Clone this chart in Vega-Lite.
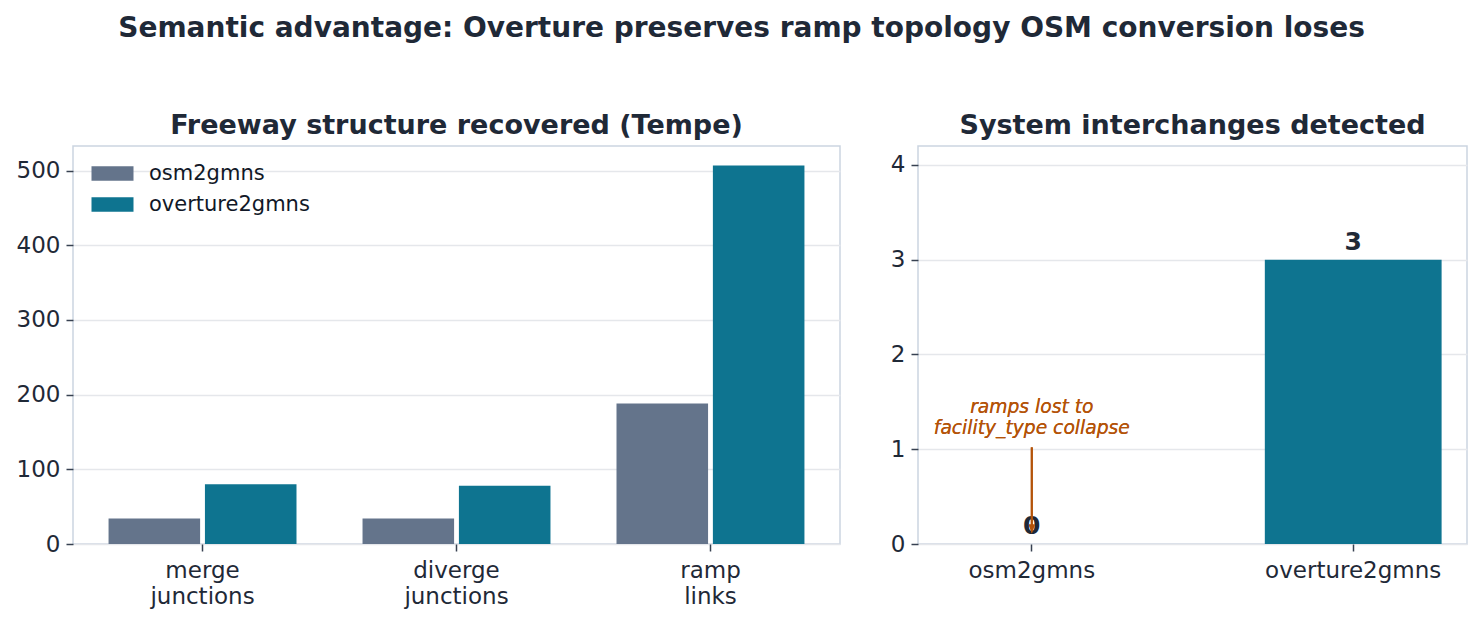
{
  "$schema": "https://vega.github.io/schema/vega-lite/v6.json",
  "padding": {"left": 15, "top": 15, "right": 12, "bottom": 5},
  "background": "white",
  "title": {"text": "Semantic advantage: Overture preserves ramp topology OSM conversion loses", "fontSize": 28, "fontWeight": "bold", "color": "#1f2937", "anchor": "middle", "offset": 68},
  "config": {
    "font": "DejaVu Sans",
    "view": {"stroke": "#cbd5e1", "strokeWidth": 1.5},
    "axis": {"labelFontSize": 23, "labelColor": "#1f2937", "tickColor": "#374151", "tickSize": 7, "tickWidth": 1.5, "labelPadding": 6, "domain": false, "gridColor": "#e5e7eb", "gridWidth": 1.3},
    "axisX": {"labelPadding": 8},
    "title": {"fontSize": 27, "fontWeight": "bold", "color": "#1f2937", "offset": 6}
  },
  "resolve": {"scale": {"color": "independent"}, "legend": {"color": "independent"}},
  "spacing": 48,
  "hconcat": [
    {
      "width": 767,
      "height": 398,
      "title": {"text": "Freeway structure recovered (Tempe)"},
      "data": {"values": [
        {"metric": "merge junctions", "tool": "osm2gmns", "count": 34},
        {"metric": "merge junctions", "tool": "overture2gmns", "count": 80},
        {"metric": "diverge junctions", "tool": "osm2gmns", "count": 34},
        {"metric": "diverge junctions", "tool": "overture2gmns", "count": 78},
        {"metric": "ramp links", "tool": "osm2gmns", "count": 188},
        {"metric": "ramp links", "tool": "overture2gmns", "count": 507}
      ]},
      "mark": {"type": "bar"},
      "encoding": {
        "x": {"field": "metric", "type": "nominal", "sort": ["merge junctions", "diverge junctions", "ramp links"], "scale": {"paddingInner": 0.26, "paddingOuter": 0.14}, "axis": {"title": null, "labelAngle": 0, "labelExpr": "split(datum.label, ' ')", "labelLineHeight": 26, "grid": false}},
        "xOffset": {"field": "tool", "type": "nominal", "sort": ["osm2gmns", "overture2gmns"], "scale": {"paddingInner": 0.05, "paddingOuter": 0}},
        "y": {"field": "count", "type": "quantitative", "scale": {"domain": [0, 533], "nice": false}, "axis": {"title": null, "values": [0, 100, 200, 300, 400, 500], "grid": true}},
        "color": {"field": "tool", "type": "nominal", "scale": {"domain": ["osm2gmns", "overture2gmns"], "range": ["#64748b", "#0e7490"]}, "legend": {"title": null, "orient": "none", "legendX": 29, "legendY": 17, "symbolType": "M-2,-0.7H2V0.7H-2Z", "symbolSize": 441, "labelFontSize": 21, "labelColor": "#111827", "labelOffset": 26, "labelLimit": 400, "rowPadding": 9, "padding": 0, "symbolStrokeWidth": 0, "symbolOpacity": 1}}
      }
    },
    {
      "width": 549,
      "height": 398,
      "title": {"text": "System interchanges detected"},
      "data": {"values": [
        {"tool": "osm2gmns", "count": 0},
        {"tool": "overture2gmns", "count": 3}
      ]},
      "encoding": {
        "x": {"field": "tool", "type": "nominal", "scale": {"domain": ["osm2gmns", "overture2gmns"], "paddingInner": 0.45, "paddingOuter": 0.079}, "axis": {"title": null, "labelAngle": 0, "grid": false}},
        "y": {"field": "count", "type": "quantitative", "scale": {"domain": [0, 4.2], "nice": false}, "axis": {"title": null, "values": [0, 1, 2, 3, 4], "grid": true}}
      },
      "layer": [
        {"mark": {"type": "bar"}, "encoding": {"color": {"field": "tool", "type": "nominal", "scale": {"domain": ["osm2gmns", "overture2gmns"], "range": ["#64748b", "#0e7490"]}, "legend": null}}},
        {"mark": {"type": "text", "fontSize": 25, "fontWeight": "bold", "color": "#1f2937", "baseline": "alphabetic", "dy": -10}, "encoding": {"text": {"field": "count", "type": "quantitative"}}},
        {"mark": {"type": "rule", "color": "#b45309", "strokeWidth": 2}, "encoding": {"x": {"datum": "osm2gmns"}, "y": {"datum": 1.02}, "y2": {"datum": 0.16}}},
        {"mark": {"type": "point", "shape": "M-0.6,-1.8L0,0L0.6,-1.8Z", "size": 100, "filled": true, "color": "#b45309", "opacity": 1}, "encoding": {"x": {"datum": "osm2gmns"}, "y": {"datum": 0.11}}},
        {"mark": {"type": "text", "text": ["ramps lost to", "facility_type collapse"], "fontSize": 18.7, "fontStyle": "italic", "color": "#b45309", "baseline": "bottom", "lineHeight": 21}, "encoding": {"x": {"datum": "osm2gmns"}, "y": {"datum": 1.34}}}
      ]
    }
  ]
}
